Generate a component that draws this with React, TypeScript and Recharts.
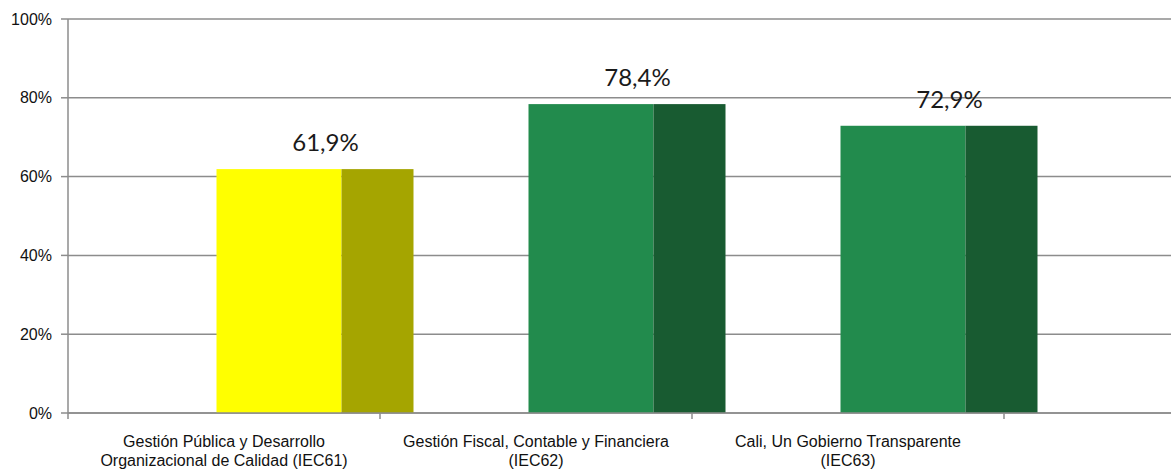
import { BarChart, Bar, XAxis, YAxis, CartesianGrid, LabelList } from "recharts";

const categories = [
  ["Gestión Pública y Desarrollo", "Organizacional de Calidad (IEC61)"],
  ["Gestión Fiscal, Contable y Financiera", "(IEC62)"],
  ["Cali, Un Gobierno Transparente", "(IEC63)"],
  ["", ""],
];
const values = [0.619, 0.784, 0.729, null];
const frontColors = ["#FFFF00", "#228B4D", "#228B4D", "none"];
const sideColors = ["#A5A500", "#185B31", "#185B31", "none"];
const yTicks = [0, 0.2, 0.4, 0.6, 0.8, 1];

const data = categories.map((lines, i) => ({
  name: lines.join("\n"),
  value: values[i],
  front: frontColors[i],
  side: sideColors[i],
}));

const AXIS_W = 68;
const BAND = 312;
const CHART_W = AXIS_W + BAND * data.length;
const CHART_H = 471;
const GREY = "#8c8c8c";

// front face starts just left of the category centre, darker side face follows
const FRONT_OFFSET = -8;
const FRONT_W = 125;
const SIDE_W = 72;

function TwoToneBar(props: any) {
  const { x, y, width, height, payload } = props;
  if (payload.value == null || !height) return null;
  const left = x + width / 2 + FRONT_OFFSET;
  return (
    <g>
      <rect x={left} y={y} width={FRONT_W} height={height} fill={payload.front} />
      <rect x={left + FRONT_W} y={y} width={SIDE_W} height={height} fill={payload.side} />
    </g>
  );
}

function ValueLabel(props: any) {
  const { x, y, width, value } = props;
  if (value == null) return null;
  return (
    <text
      x={x + width / 2 + 101}
      y={y - 18}
      textAnchor="middle"
      fontFamily="Lato, 'Open Sans', sans-serif"
      fontSize={24}
      fill="#1a1a1a"
    >
      {(value * 100).toFixed(1).replace(".", ",") + "%"}
    </text>
  );
}

function CategoryTick(props: any) {
  const { x, y, payload } = props;
  const lines = String(payload.value).split("\n");
  const edge = x - BAND / 2;
  return (
    <g>
      <line x1={edge} y1={y} x2={edge} y2={y + 6} stroke={GREY} strokeWidth={1.5} />
      <text
        x={x}
        textAnchor="middle"
        fontFamily="'Liberation Sans', Arial, sans-serif"
        fontSize={16}
        fill="#111"
      >
        <tspan x={x} y={y + 34}>{lines[0]}</tspan>
        <tspan x={x} y={y + 53}>{lines[1]}</tspan>
      </text>
    </g>
  );
}

export default function App() {
  return (
    <div
      style={{
        position: "absolute",
        left: 0,
        top: 0,
        width: 1171,
        height: CHART_H,
        overflow: "hidden",
        background: "#fff",
      }}
    >
      <BarChart
        width={CHART_W}
        height={CHART_H}
        data={data}
        margin={{ top: 19, right: 0, bottom: 0, left: 0 }}
      >
        <CartesianGrid vertical={false} stroke={GREY} strokeWidth={1.5} />
        <XAxis
          dataKey="name"
          height={58}
          interval={0}
          tickSize={0}
          tickMargin={0}
          tickLine={false}
          axisLine={{ stroke: GREY, strokeWidth: 1.5 }}
          tick={<CategoryTick />}
        />
        <YAxis
          type="number"
          domain={[0, 1]}
          ticks={yTicks}
          width={AXIS_W}
          tickSize={7}
          tickMargin={9}
          tickFormatter={(v: number) => `${Math.round(v * 100)}%`}
          axisLine={{ stroke: GREY, strokeWidth: 1.5 }}
          tickLine={{ stroke: GREY, strokeWidth: 1.5 }}
          tick={{ fontSize: 16, fill: "#111", fontFamily: "'Liberation Sans', Arial, sans-serif" }}
        />
        <Bar
          dataKey="value"
          barSize={197}
          shape={<TwoToneBar />}
          isAnimationActive={false}
        >
          <LabelList dataKey="value" content={<ValueLabel />} />
        </Bar>
      </BarChart>
    </div>
  );
}
